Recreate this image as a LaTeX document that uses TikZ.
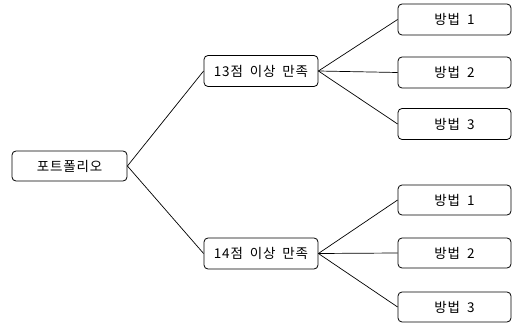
\documentclass[tikz,border=0pt]{standalone}
\usepackage{fontspec}
\setmainfont{Noto Sans CJK KR}[LetterSpace=6,WordSpace=1.8]
\begin{document}
\begin{tikzpicture}[x=1pt,y=-1pt,
  box/.style={draw, rounded corners=4pt, line width=0.8pt, inner sep=0pt, font=\fontsize{13.5}{15}\selectfont},
  edge/.style={line width=0.7pt}]
\useasboundingbox (0,0) rectangle (514,323);
\node[box, minimum width=115pt, minimum height=30pt] (root) at (69.5,166) {포트폴리오};
\node[box, minimum width=114pt, minimum height=31pt] (m1) at (261,71) {13점 이상 만족};
\node[box, minimum width=114pt, minimum height=31pt] (m2) at (261,253.5) {14점 이상 만족};
\node[box, minimum width=113pt, minimum height=31pt] (a1) at (454.5,19.5) {방법 1};
\node[box, minimum width=113pt, minimum height=31pt] (a2) at (454.5,72.5) {방법 2};
\node[box, minimum width=113pt, minimum height=31pt] (a3) at (454.5,124) {방법 3};
\node[box, minimum width=113pt, minimum height=30pt] (b1) at (454.5,200) {방법 1};
\node[box, minimum width=113pt, minimum height=30pt] (b2) at (454.5,253) {방법 2};
\node[box, minimum width=113pt, minimum height=30pt] (b3) at (454.5,307) {방법 3};
\draw[edge] (root.east) -- (m1.west);
\draw[edge] (root.east) -- (m2.west);
\draw[edge] (m1.east) -- (a1.west);
\draw[edge] (m1.east) -- (a2.west);
\draw[edge] (m1.east) -- (a3.west);
\draw[edge] (m2.east) -- (b1.west);
\draw[edge] (m2.east) -- (b2.west);
\draw[edge] (m2.east) -- (b3.west);
\end{tikzpicture}
\end{document}
